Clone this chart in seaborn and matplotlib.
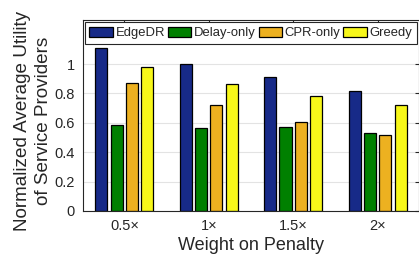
import pandas as pd
import numpy as np
import matplotlib
matplotlib.use('Agg')
import matplotlib.pyplot as plt
import seaborn as sns

weights = ['0.5\u00d7', '1\u00d7', '1.5\u00d7', '2\u00d7']
methods = ['EdgeDR', 'Delay-only', 'CPR-only', 'Greedy']
edgedr = [1.11, 1.00, 0.91, 0.82]
delay_only = [0.585, 0.563, 0.57, 0.53]
cpr_only = [0.87, 0.72, 0.605, 0.515]
greedy = [0.978, 0.866, 0.784, 0.72]
colors = ['#172a88', '#008000', '#edb120', '#f7f71a']

df = pd.DataFrame({'weight': weights * 4,
                   'method': np.repeat(methods, 4),
                   'value': edgedr + delay_only + cpr_only + greedy})

sns.set_style('white')
plt.rcParams['font.family'] = ['Liberation Sans', 'DejaVu Sans']

fig = plt.figure(figsize=(4.19, 2.57), dpi=100)
ax = fig.add_axes([0.198, 0.179, 0.802, 0.743])
ax.set_axisbelow(True)
ax.yaxis.grid(True, color='#e3e3e3', linewidth=0.8)

sns.barplot(data=df, x='weight', y='value', hue='method', palette=colors,
            width=0.73, gap=0.22, edgecolor='black', linewidth=0.9,
            saturation=1, ax=ax)

ax.set_xlim(-0.49, 3.49)
ax.set_ylim(0, 1.3)
ax.set_yticks([0, 0.2, 0.4, 0.6, 0.8, 1])
ax.set_yticklabels(['0', '0.2', '0.4', '0.6', '0.8', '1'])
ax.tick_params(direction='in', length=3, color='#262626', labelsize=10.5,
               labelcolor='#262626', top=True, right=True, pad=6)
for s in ax.spines.values():
    s.set_color('#262626')
    s.set_linewidth(0.8)

ax.set_xlabel('Weight on Penalty', fontsize=13, color='#262626', labelpad=3)
ax.set_ylabel('Normalized Average Utility\nof Service Providers', fontsize=13.6,
              color='#262626', linespacing=1.3)
ax.yaxis.set_label_coords(-0.093, 0.47)

leg = ax.legend(loc='upper left', bbox_to_anchor=(0.0, 1.0), ncol=4,
                fontsize=9.4, frameon=True, fancybox=False, framealpha=1,
                edgecolor='#262626', handlelength=1.8, handleheight=0.9,
                handletextpad=0.2, columnspacing=0.22, borderpad=0.35,
                borderaxespad=0.15)
leg.get_frame().set_linewidth(0.8)

plt.savefig('out.png', dpi=100)
